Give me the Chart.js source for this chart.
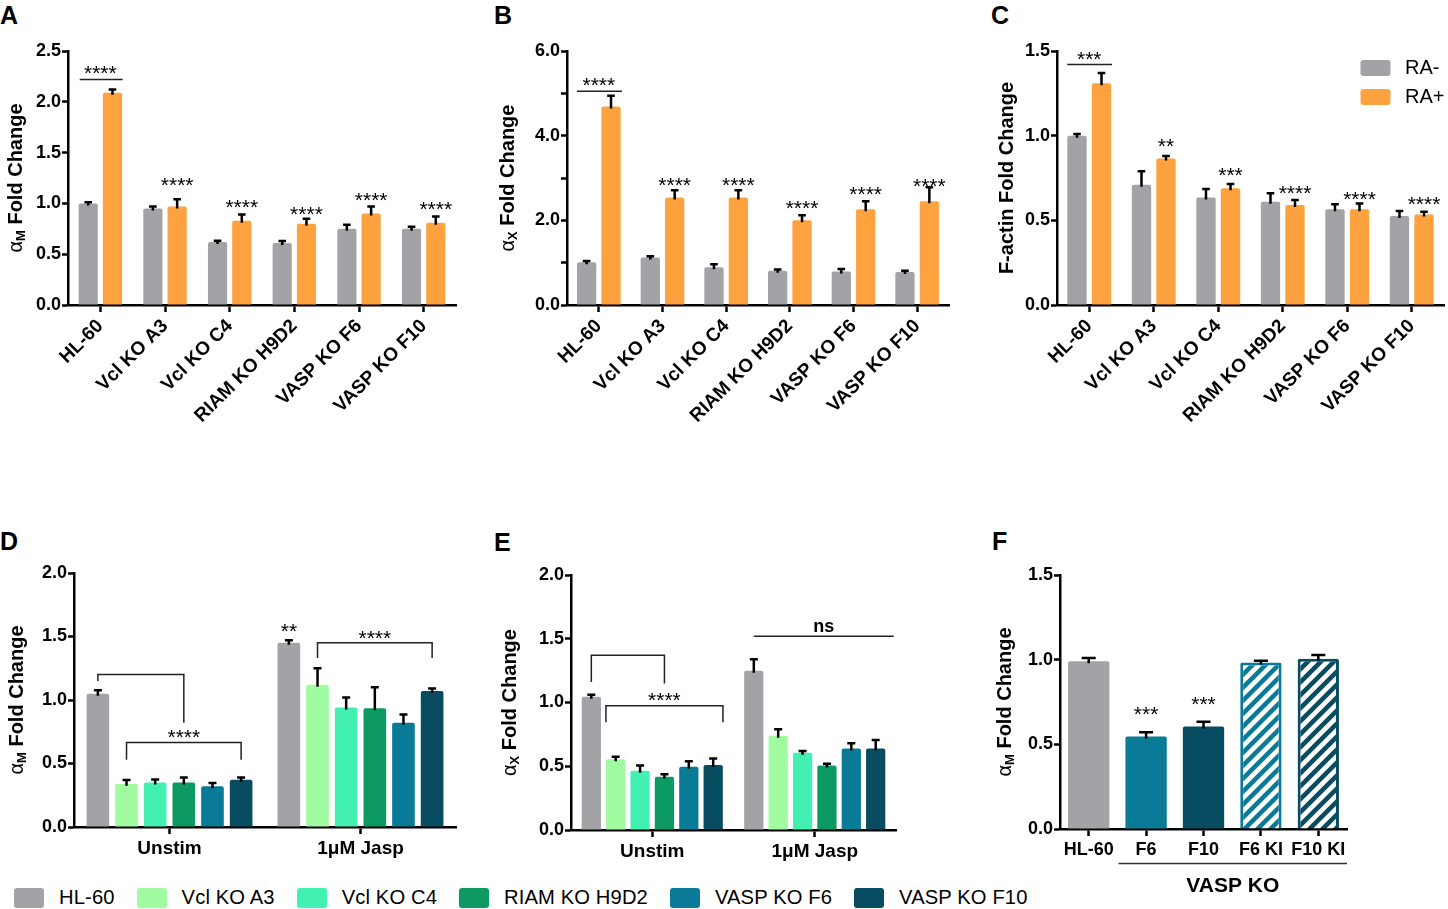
<!DOCTYPE html>
<html><head><meta charset="utf-8">
<script src="https://cdn.jsdelivr.net/npm/chart.js@4.4.1/dist/chart.umd.min.js"></script>
<style>
html,body{margin:0;padding:0;background:#fff}
body{width:1448px;height:909px;position:relative;overflow:hidden;font-family:"Liberation Sans",Arial,Helvetica,sans-serif}
.cv{position:absolute}
.lt{position:absolute;font-weight:bold;font-size:25px;line-height:25px;color:#000}
#lg{position:absolute;left:14px;top:886px;display:flex;align-items:center;font-size:20.2px;letter-spacing:0.12px;color:#000;white-space:nowrap}
#lg .it{display:flex;align-items:center;margin-right:22px}
#lg .bx{width:30px;height:20px;border-radius:3px;margin-right:15px}
</style></head>
<body>
<div class="lt" style="left:0;top:3px">A</div>
<div class="lt" style="left:494px;top:3px">B</div>
<div class="lt" style="left:991px;top:3px">C</div>
<div class="lt" style="left:0;top:529px">D</div>
<div class="lt" style="left:494px;top:530px">E</div>
<div class="lt" style="left:992px;top:529px">F</div>
<div id="lg"></div>
<script>
// ---------------- DATA ----------------
const cellLines = ['HL-60','Vcl KO A3','Vcl KO C4','RIAM KO H9D2','VASP KO F6','VASP KO F10'];
const raLabels = ['RA-','RA+'];
const treatments = ['Unstim','1\u03bcM Jasp'];
const fLabels = ['HL-60','F6','F10','F6 KI','F10 KI'];

// A: alphaM fold change
const A_raNeg = [1.00,0.95,0.62,0.61,0.75,0.75];
const A_raNegErr = [0.01,0.02,0.01,0.02,0.04,0.02];
const A_raPos = [2.09,0.97,0.83,0.80,0.90,0.81];
const A_raPosErr = [0.03,0.07,0.06,0.05,0.07,0.06];
const A_sig = ['****','****','****','****','****','****'];
const A_sigY = [2.33,1.23,1.01,0.945,1.08,0.99];
const A_lineY = 2.22;

// B: alphaX fold change
const B_raNeg = [1.01,1.12,0.89,0.81,0.79,0.78];
const B_raNegErr = [0.01,0.03,0.07,0.03,0.06,0.03];
const B_raPos = [4.69,2.54,2.54,2.00,2.26,2.45];
const B_raPosErr = [0.25,0.17,0.17,0.12,0.19,0.33];
const B_sig = ['****','****','****','****','****','****'];
const B_sigY = [5.32,2.95,2.95,2.40,2.74,2.92];
const B_lineY = 5.05;

// C: F-actin fold change
const C_raNeg = [1.00,0.71,0.635,0.61,0.565,0.525];
const C_raNegErr = [0.01,0.08,0.05,0.05,0.03,0.03];
const C_raPos = [1.31,0.865,0.69,0.59,0.566,0.535];
const C_raPosErr = [0.06,0.015,0.025,0.03,0.034,0.015];
const C_sig = ['***','**','***','****','****','****'];
const C_sigY = [1.48,0.97,0.80,0.69,0.655,0.625];
const C_lineY = 1.42;

// D: alphaM, [Unstim, Jasp] per cell line
const D_vals = [[1.05,1.45],[0.34,1.12],[0.35,0.94],[0.35,0.935],[0.32,0.82],[0.373,1.07]];
const D_errs = [[0.026,0.02],[0.03,0.13],[0.025,0.08],[0.04,0.165],[0.027,0.065],[0.017,0.02]];
const D_brackets = [{cat:0,f1:0,f2:3,y:1.20,y1:1.15,y2:0.82},{cat:0,f1:1,f2:5,y:0.665,y1:0.53,y2:0.53},{cat:1,f1:1,f2:5,y:1.45,y1:1.33,y2:1.33}];
const D_texts = [{cat:0,f:3,y:0.75,t:'****'},{cat:1,f:0,y:1.58,t:'**'},{cat:1,f:3,y:1.53,t:'****'}];

// E: alphaX, [Unstim, Jasp] per cell line
const E_vals = [[1.045,1.25],[0.555,0.74],[0.465,0.606],[0.418,0.505],[0.497,0.64],[0.51,0.64]];
const E_errs = [[0.015,0.09],[0.02,0.05],[0.04,0.014],[0.019,0.015],[0.043,0.04],[0.05,0.066]];
const E_brackets = [{cat:0,f1:0,f2:3,y:1.37,y1:1.16,y2:1.15},{cat:0,f1:0.6,f2:5.4,y:0.975,y1:0.845,y2:0.845}];
const E_lines = [{cat:1,f1:0,f2:5.74,y:1.52}];
const E_texts = [{cat:0,f:3,y:1.06,t:'****'},{cat:1,f:2.87,y:1.59,t:'ns',bold:true}];

// F: alphaM rescue
const F_vals = [0.99,0.546,0.605,0.983,1.005];
const F_errs = [0.02,0.026,0.028,0.01,0.023];
const F_sig = ['','***','***','',''];
const F_sigY = [0,0.71,0.77,0,0];

// ---------------- STYLE ----------------
const FF = '"Liberation Sans", Arial, Helvetica, sans-serif';
Chart.defaults.font.family = FF;
Chart.defaults.color = '#000';
const GRAY = '#a3a2a7', ORANGE = '#fea13f';
const lineColors = ['#a3a2a7','#a1fba0','#42f1b2','#0c9a62','#0a7b96','#074c61'];

// legend (bottom)
const lg = document.getElementById('lg');
cellLines.forEach((n,i)=>{
  const it=document.createElement('div'); it.className='it';
  const b=document.createElement('div'); b.className='bx'; b.style.background=lineColors[i];
  const t=document.createElement('span'); t.textContent=n;
  it.appendChild(b); it.appendChild(t); lg.appendChild(it);
});

function hatch(color){
  const s=13, c=document.createElement('canvas'); c.width=s; c.height=s;
  const g=c.getContext('2d');
  g.fillStyle=color; g.fillRect(0,0,s,s);
  g.strokeStyle='#fff'; g.lineWidth=4.6; g.lineCap='square';
  g.beginPath();
  g.moveTo(0,s); g.lineTo(s,0);
  g.moveTo(-s/2,s/2); g.lineTo(s/2,-s/2);
  g.moveTo(s/2,1.5*s); g.lineTo(1.5*s,s/2);
  g.stroke();
  return g.createPattern(c,'repeat');
}

function makeCanvas(box){
  const d=document.createElement('canvas');
  d.className='cv'; d.width=box.w; d.height=box.h;
  d.style.left=box.left+'px'; d.style.top=box.top+'px';
  d.style.width=box.w+'px'; d.style.height=box.h+'px';
  document.body.appendChild(d); return d;
}

function xf(chart,cat,f){
  const n=chart.data.datasets.length;
  const b0=chart.getDatasetMeta(0).data[cat];
  const slot = n>1 ? chart.getDatasetMeta(1).data[cat].x - b0.x : 0;
  return b0.x + f*slot;
}

function drawText(ctx,t,x,py,bold,size){
  ctx.save();
  ctx.fillStyle='#000'; ctx.textAlign='center';
  if(/^\*+$/.test(t)){
    ctx.font=(bold?'bold ':'')+size+'px '+FF; ctx.textBaseline='alphabetic';
    ctx.fillText(t,x,py+0.57*size);
  } else {
    ctx.font=(bold?'bold ':'')+size+'px '+FF; ctx.textBaseline='middle';
    ctx.fillText(t,x,py);
  }
  ctx.restore();
}

function annPlugin(spec){
  return {
    id:'ann_'+spec.name,
    afterDatasetsDraw(chart){
      const ctx=chart.ctx, ys=chart.scales.y;
      ctx.save();
      ctx.strokeStyle='#000'; ctx.lineWidth=spec.ebW||2.5; ctx.lineCap='butt';
      chart.data.datasets.forEach((ds,di)=>{
        const meta=chart.getDatasetMeta(di);
        meta.data.forEach((bar,i)=>{
          const e=ds.errors[i];
          const top=ys.getPixelForValue(ds.data[i]+e), base=ys.getPixelForValue(ds.data[i]);
          const topY=Math.min(top,base-1.2);
          ctx.beginPath();
          ctx.moveTo(bar.x,base+2); ctx.lineTo(bar.x,topY);
          ctx.moveTo(bar.x-spec.cap,topY); ctx.lineTo(bar.x+spec.cap,topY);
          ctx.stroke();
        });
      });
      ctx.restore();
    },
    afterDraw(chart){
      const ctx=chart.ctx, ys=chart.scales.y, xs=chart.scales.x, ca=chart.chartArea;
      ctx.save();
      ctx.strokeStyle='#222'; ctx.lineWidth=1.5;
      (spec.brackets||[]).forEach(b=>{
        const x1=xf(chart,b.cat,b.f1), x2=xf(chart,b.cat,b.f2);
        ctx.beginPath();
        ctx.moveTo(x1,ys.getPixelForValue(b.y1)); ctx.lineTo(x1,ys.getPixelForValue(b.y));
        ctx.lineTo(x2,ys.getPixelForValue(b.y)); ctx.lineTo(x2,ys.getPixelForValue(b.y2));
        ctx.stroke();
      });
      (spec.lines||[]).forEach(l=>{
        const x1=xf(chart,l.cat,l.f1), x2=xf(chart,l.cat,l.f2), y=ys.getPixelForValue(l.y);
        ctx.beginPath(); ctx.moveTo(x1,y); ctx.lineTo(x2,y); ctx.stroke();
      });
      ctx.restore();
      (spec.texts||[]).forEach(t=>{
        drawText(ctx,t.t,xf(chart,t.cat,t.f),ys.getPixelForValue(t.y),t.bold,t.size||21);
      });
      // y title
      if(spec.yTitle){
        const parts=spec.yTitle;
        ctx.save();
        ctx.translate(ca.left-spec.titleDx,(ca.top+ca.bottom)/2);
        ctx.rotate(-Math.PI/2);
        let tot=0;
        parts.forEach(p=>{ctx.font=p.font; p.w=ctx.measureText(p.t).width; tot+=p.w;});
        let cx=-tot/2; ctx.textBaseline='middle'; ctx.fillStyle='#000'; ctx.textAlign='left';
        parts.forEach(p=>{ctx.font=p.font; ctx.fillText(p.t,cx,p.dy||0); cx+=p.w;});
        ctx.restore();
      }
      if(spec.extra) spec.extra(chart);
    }
  };
}

function baseOpts(box,area,yMax,yStep,yCb,xFont,rot,catPct,barPct){
  return {
    responsive:false, animation:false, devicePixelRatio: window.devicePixelRatio||1,
    layout:{padding:{left:0,top:area.top-box.top,right:box.left+box.w-area.right,bottom:0}},
    plugins:{legend:{display:false},tooltip:{enabled:false},title:{display:false}},
    datasets:{bar:{categoryPercentage:catPct,barPercentage:barPct}},
    scales:{
      x:{type:'category',offset:true,
        grid:{display:true,drawOnChartArea:false,drawTicks:true,tickLength:7,tickWidth:2.5,tickColor:'#000',offset:false,color:'#000'},
        border:{display:true,color:'#000',width:2.5},
        ticks:{font:xFont,color:'#000',padding:3,autoSkip:false,minRotation:rot,maxRotation:rot},
        afterFit(s){s.height=box.top+box.h-area.bottom;}
      },
      y:{min:0,max:yMax,
        grid:{display:true,drawOnChartArea:false,drawTicks:true,tickLength:6,tickWidth:2.5,tickColor:'#000',color:'#000'},
        border:{display:true,color:'#000',width:2.5},
        ticks:{stepSize:yStep,font:{weight:'bold',size:18},color:'#000',padding:1,callback:yCb},
        afterFit(s){s.width=area.left-box.left;}
      }
    }
  };
}

const fmt1 = v=>Number(v).toFixed(1);
const fmtEven = v=>(Math.round(v)%2===0?Number(v).toFixed(1):'');
const bar = (label,data,errors,color,extra)=>Object.assign({label,data,errors,backgroundColor:color,borderRadius:{topLeft:2,topRight:2},borderSkipped:'start'},extra||{});
const titleAlpha = sub=>[
  {t:'\u03b1',font:'20px '+FF},
  {t:sub,font:'bold 13px '+FF,dy:5},
  {t:' Fold Change',font:'bold 20px '+FF}
];

function raTexts(sig,sigY){
  return sig.map((t,i)=>({cat:i,f:i===0?0.5:1,y:sigY[i],t}));
}
const rotFont = {weight:'bold',size:19};

// ---------- Panel A ----------
(function(){
  const box={left:0,top:0,w:470,h:430}, area={left:68,right:456,top:51,bottom:305};
  const c=makeCanvas(box);
  new Chart(c,{type:'bar',
    data:{labels:cellLines,datasets:[bar(raLabels[0],A_raNeg,A_raNegErr,GRAY),bar(raLabels[1],A_raPos,A_raPosErr,ORANGE)]},
    options:baseOpts(box,area,2.5,0.5,fmt1,rotFont,45,0.75,0.79),
    plugins:[annPlugin({name:'A',cap:3.8,lines:[{cat:0,f1:-0.35,f2:1.42,y:A_lineY}],texts:raTexts(A_sig,A_sigY),yTitle:titleAlpha('M'),titleDx:52})]
  });
})();

// ---------- Panel B ----------
(function(){
  const box={left:480,top:0,w:485,h:430}, area={left:567,right:949,top:51,bottom:305};
  const c=makeCanvas(box);
  new Chart(c,{type:'bar',
    data:{labels:cellLines,datasets:[bar(raLabels[0],B_raNeg,B_raNegErr,GRAY),bar(raLabels[1],B_raPos,B_raPosErr,ORANGE)]},
    options:baseOpts(box,area,6,1,fmtEven,rotFont,45,0.766,0.79),
    plugins:[annPlugin({name:'B',cap:3.8,lines:[{cat:0,f1:-0.4,f2:1.45,y:B_lineY}],texts:raTexts(B_sig,B_sigY),yTitle:titleAlpha('X'),titleDx:59})]
  });
})();

// ---------- Panel C ----------
(function(){
  const box={left:975,top:0,w:473,h:430}, area={left:1057,right:1444,top:51,bottom:305};
  const c=makeCanvas(box);
  new Chart(c,{type:'bar',
    data:{labels:cellLines,datasets:[bar(raLabels[0],C_raNeg,C_raNegErr,GRAY),bar(raLabels[1],C_raPos,C_raPosErr,ORANGE)]},
    options:baseOpts(box,area,1.5,0.5,fmt1,rotFont,45,0.76,0.79),
    plugins:[annPlugin({name:'C',cap:3.8,lines:[{cat:0,f1:-0.4,f2:1.43,y:C_lineY}],texts:raTexts(C_sig,C_sigY),
      yTitle:[{t:'F-actin Fold Change',font:'bold 20px '+FF}],titleDx:50,
      extra(chart){
        const ctx=chart.ctx, r=chart.chartArea.right;
        chart.data.datasets.forEach((ds,i)=>{
          const y=60+i*29;
          ctx.save();
          ctx.fillStyle=ds.backgroundColor;
          ctx.beginPath(); ctx.roundRect(r-83.5,y,30,16,3); ctx.fill();
          ctx.fillStyle='#000'; ctx.font='20px '+FF; ctx.textBaseline='middle'; ctx.textAlign='left';
          ctx.fillText(ds.label,r-39,y+8.5);
          ctx.restore();
        });
      }})]
  });
})();

// ---------- Panel D ----------
(function(){
  const box={left:0,top:520,w:470,h:350}, area={left:74,right:456,top:573,bottom:827};
  const c=makeCanvas(box);
  new Chart(c,{type:'bar',
    data:{labels:treatments,datasets:cellLines.map((n,i)=>bar(n,D_vals[i],D_errs[i],lineColors[i]))},
    options:baseOpts(box,area,2,0.5,fmt1,{weight:'bold',size:19},0,0.9,0.79),
    plugins:[annPlugin({name:'D',cap:4,brackets:D_brackets,texts:D_texts,yTitle:titleAlpha('M'),titleDx:57})]
  });
})();

// ---------- Panel E ----------
(function(){
  const box={left:480,top:520,w:485,h:350}, area={left:571,right:896,top:575,bottom:830};
  const c=makeCanvas(box);
  new Chart(c,{type:'bar',
    data:{labels:treatments,datasets:cellLines.map((n,i)=>bar(n,E_vals[i],E_errs[i],lineColors[i]))},
    options:baseOpts(box,area,2,0.5,fmt1,{weight:'bold',size:19},0,0.9,0.79),
    plugins:[annPlugin({name:'E',cap:4,brackets:E_brackets,lines:E_lines,texts:E_texts.map(t=>Object.assign({size:t.bold?18:21},t)),yTitle:titleAlpha('X'),titleDx:61})]
  });
})();

// ---------- Panel F ----------
(function(){
  const box={left:975,top:520,w:473,h:389}, area={left:1060,right:1347,top:575,bottom:829};
  const c=makeCanvas(box);
  const F6=lineColors[4], F10=lineColors[5];
  const bg=[GRAY,F6,F10,hatch(F6),hatch(F10)];
  const bc=[GRAY,F6,F10,F6,F10];
  const bw=[0,0,0,3,3];
  const texts=F_sig.map((t,i)=>({cat:i,f:0,y:F_sigY[i],t})).filter(o=>o.t);
  new Chart(c,{type:'bar',
    data:{labels:fLabels,datasets:[bar('\u03b1M',F_vals,F_errs,bg,{borderColor:bc,borderWidth:bw})]},
    options:baseOpts(box,area,1.5,0.5,fmt1,{weight:'bold',size:18},0,1,0.72),
    plugins:[annPlugin({name:'F',cap:7,texts,yTitle:titleAlpha('M'),titleDx:55,
      extra(chart){
        const ctx=chart.ctx, xs=chart.scales.x, ca=chart.chartArea;
        const x1=xs.getPixelForValue(0.52), x2=xs.getPixelForValue(4.5), y=ca.bottom+34.5;
        ctx.save();
        ctx.strokeStyle='#333'; ctx.lineWidth=1.3;
        ctx.beginPath(); ctx.moveTo(x1,y); ctx.lineTo(x2,y); ctx.stroke();
        ctx.fillStyle='#000'; ctx.font='bold 21px '+FF; ctx.textAlign='center'; ctx.textBaseline='middle';
        ctx.fillText('VASP KO',(x1+x2)/2,ca.bottom+57);
        ctx.restore();
      }})]
  });
})();
</script>
</body></html>
